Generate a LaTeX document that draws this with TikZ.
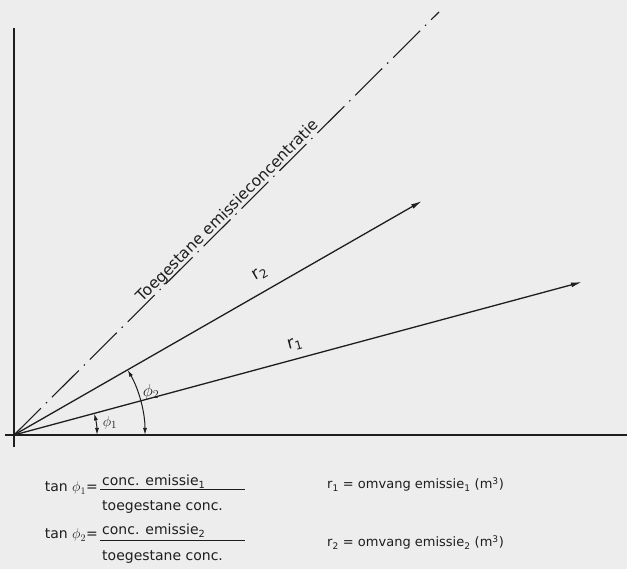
\documentclass[tikz,border=0pt]{standalone}
\usepackage{fontspec}
\setmainfont{DejaVu Sans}
\usetikzlibrary{arrows.meta}
\definecolor{bg}{RGB}{237,237,237}
\definecolor{ink}{RGB}{30,30,30}
\tikzset{
  axisline/.style={draw=ink, line width=1.8pt},
  vec/.style={draw=ink, line width=1.3pt, -{Latex[length=11pt,width=5pt]}},
  anglearc/.style={draw=ink, line width=1pt, {Latex[length=7pt,width=4pt]}-{Latex[length=7pt,width=4pt]}},
  dashdot/.style={draw=ink, line width=1.1pt, dash pattern=on 38pt off 7pt on 1.5pt off 7pt},
  lbl/.style={text=ink, inner sep=1pt, font=\fontsize{17}{20}\selectfont},
  txt/.style={text=ink, inner sep=0pt, font=\fontsize{14}{16}\selectfont},
}
\begin{document}
\begin{tikzpicture}[x=1pt,y=1pt]
\fill[bg] (-14,-134) rectangle (613,435);
\useasboundingbox (-14,-134) rectangle (613,435);
\coordinate (O) at (0,0);
\coordinate (ytop) at (0,407);
\coordinate (ybot) at (0,-12);
\coordinate (xl) at (-9,0);
\coordinate (xr) at (613,0);
\coordinate (r2end) at (408,234);
\coordinate (r1end) at (568,153);
\coordinate (dend) at (425,423);
% axes
\draw[axisline] (ybot) -- (ytop);
\draw[axisline] (xl) -- (xr);
% lines
\draw[dashdot] (O) -- (dend);
\draw[vec] (O) -- (r2end);
\draw[vec] (O) -- (r1end);
% angle arcs
\draw[anglearc] (131,0) arc[start angle=0, end angle=29.8, radius=131];
\draw[anglearc] (83,0) arc[start angle=0, end angle=15.1, radius=83];
% labels
\node[lbl, font=\fontsize{18}{20}\selectfont] (phi2) at (137,43) {$\phi_2$};
\node[lbl, font=\fontsize{15}{17}\selectfont] (phi1) at (96,12) {$\phi_1$};
\node[lbl, rotate=30] (r2lbl) at (246,161) {r\textsubscript{2}};
\node[lbl, rotate=15] (r1lbl) at (281,91) {r\textsubscript{1}};
\node[text=ink, inner sep=0.5pt, anchor=south, rotate=45, font=\fontsize{15.5}{18}\selectfont] (dlbl) at (220,218) {Toegestane emissieconcentratie};
% formulas
\node[txt, anchor=base east] (tan1) at (84,-57) {tan $\phi_1$=};
\node[txt, anchor=base west] (num1) at (88,-51) {conc. emissie\textsubscript{1}};
\node[txt, anchor=base west] (den1) at (88,-76) {toegestane conc.};
\draw[ink, line width=0.8pt] (86,-54) -- (231,-54);
\node[txt, anchor=base east] (tan2) at (84,-104) {tan $\phi_2$=};
\node[txt, anchor=base west] (num2) at (88,-100) {conc. emissie\textsubscript{2}};
\node[txt, anchor=base west] (den2) at (88,-126) {toegestane conc.};
\draw[ink, line width=0.8pt] (86,-105) -- (231,-105);
\node[txt, anchor=base west, font=\fontsize{13}{15}\selectfont] (def1) at (313,-54) {r\textsubscript{1} = omvang emissie\textsubscript{1} (m\textsuperscript{3})};
\node[txt, anchor=base west, font=\fontsize{13}{15}\selectfont] (def2) at (313,-112) {r\textsubscript{2} = omvang emissie\textsubscript{2} (m\textsuperscript{3})};
\end{tikzpicture}
\end{document}
